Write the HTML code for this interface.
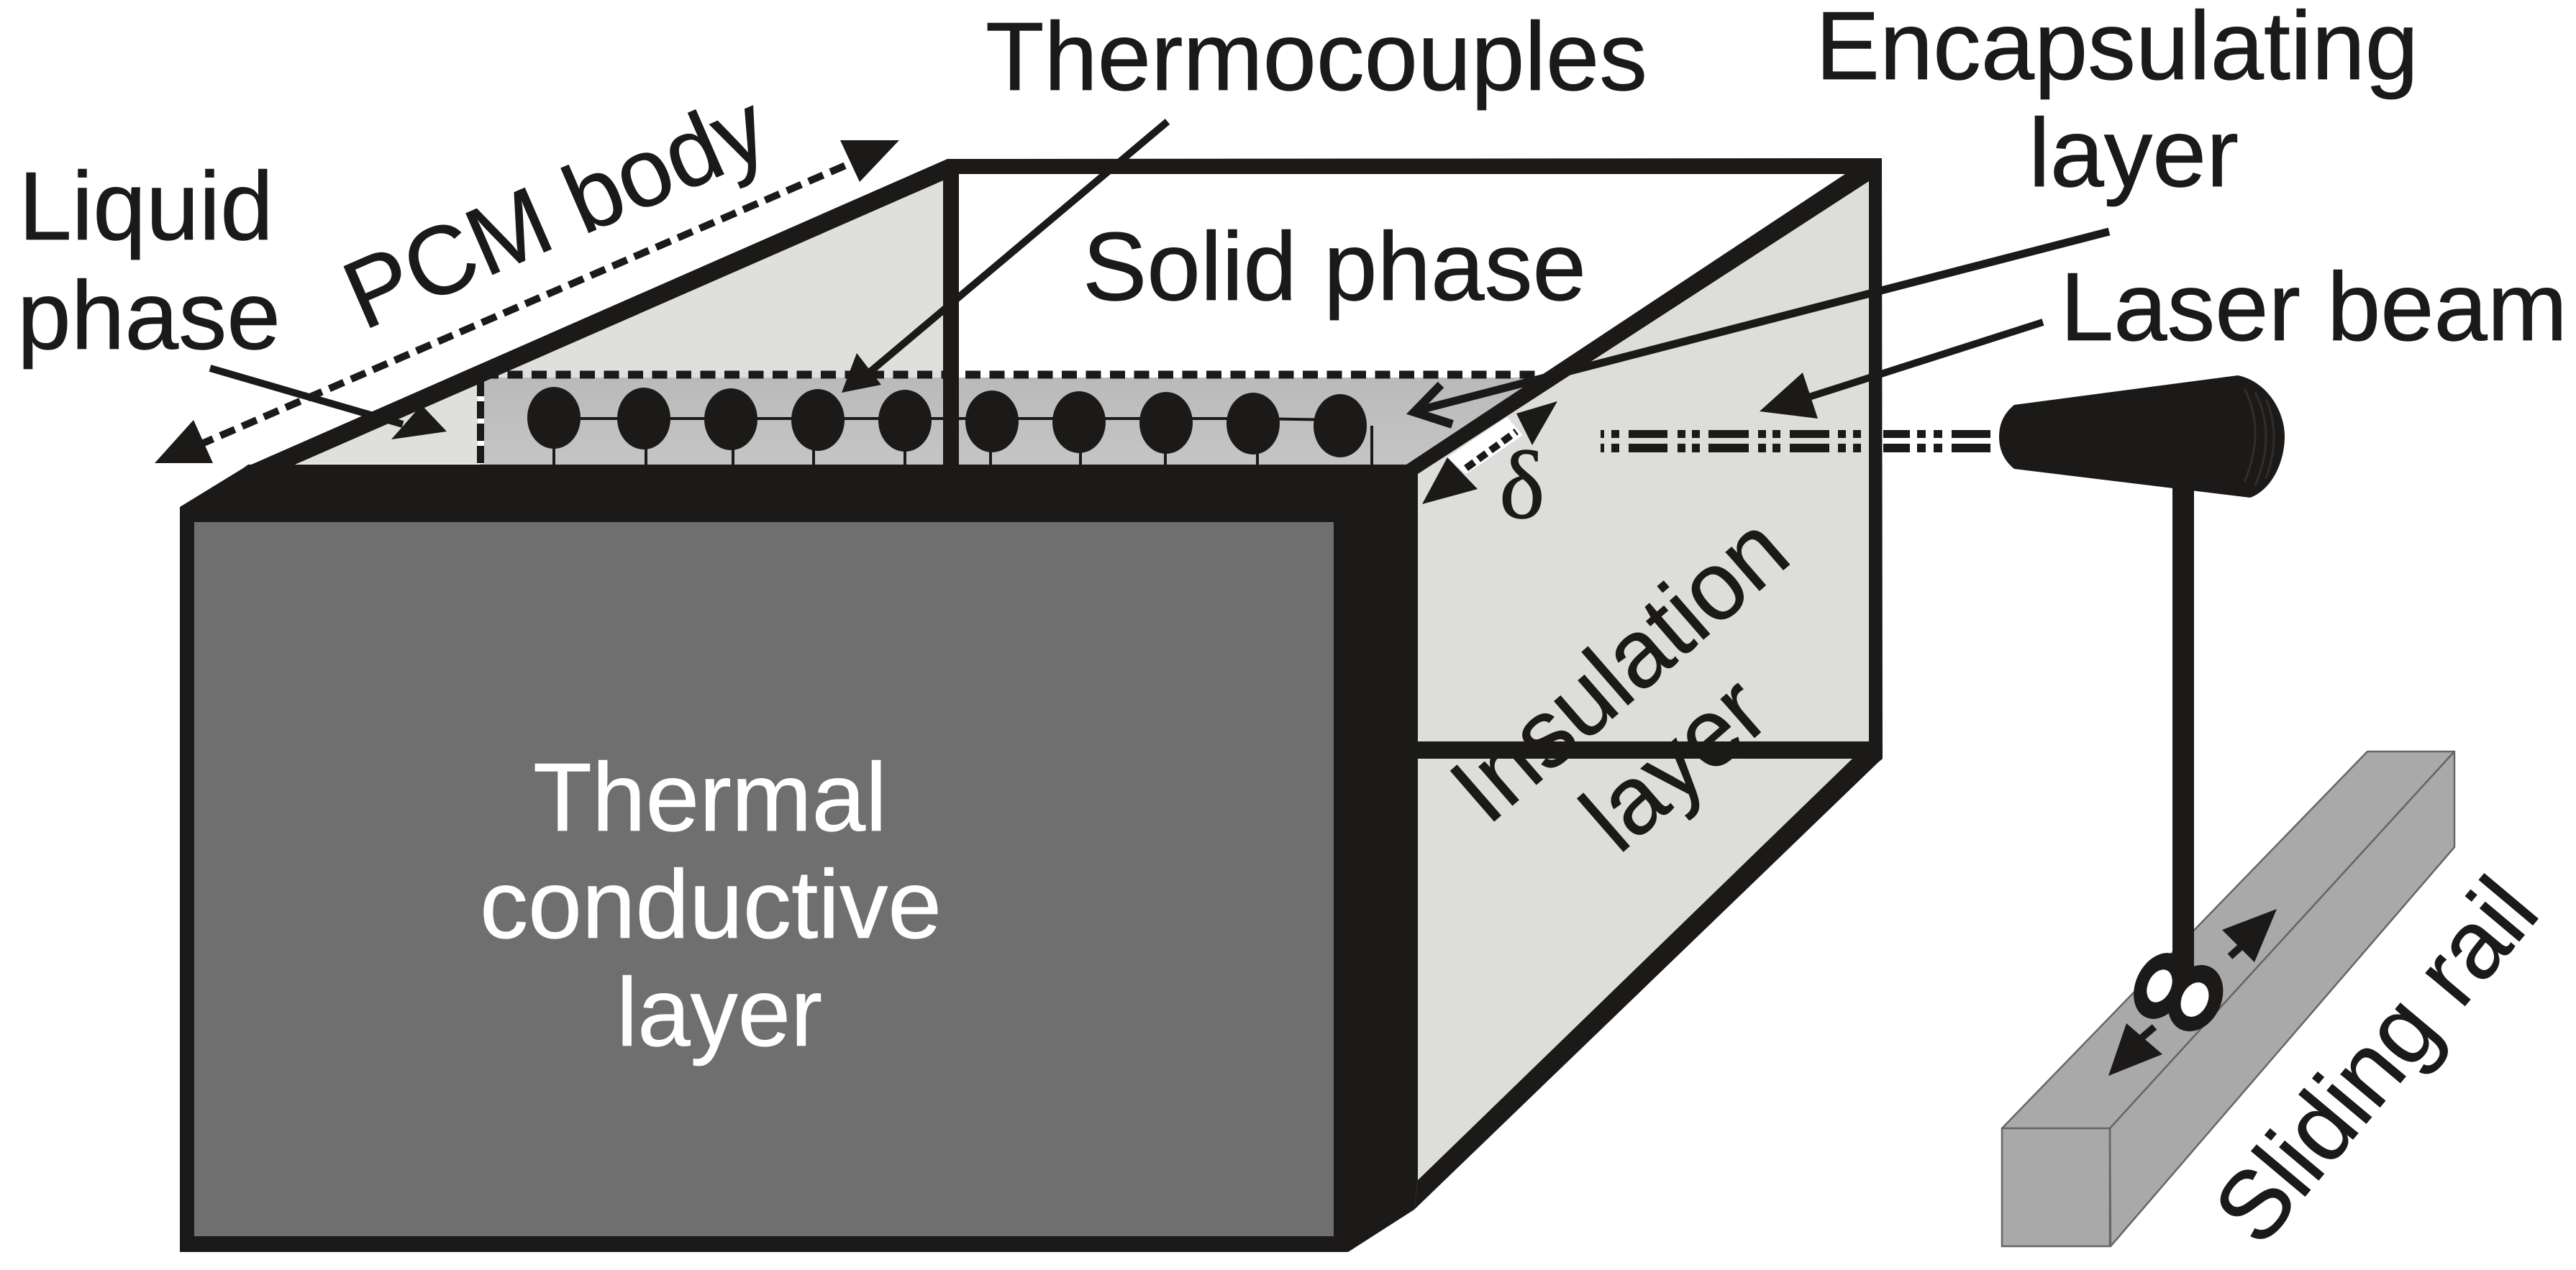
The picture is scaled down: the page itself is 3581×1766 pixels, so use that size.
<!DOCTYPE html>
<html>
<head>
<meta charset="utf-8">
<style>
html,body{margin:0;padding:0;background:#fff;width:3581px;height:1766px;overflow:hidden}
svg{display:block}
text{font-family:"Liberation Sans",sans-serif;fill:#1c1a19;font-size:135px;stroke:#1c1a19;stroke-width:0.8px}
</style>
</head>
<body>
<svg width="3581" height="1766" viewBox="0 0 3581 1766" xmlns="http://www.w3.org/2000/svg">
<defs>
<linearGradient id="g" x1="0" y1="0" x2="0" y2="1"><stop offset="0" stop-color="#b9bab9"/><stop offset="1" stop-color="#c4c5c4"/></linearGradient>
</defs>
<rect width="3581" height="1766" fill="#fff"/>

<!-- faces -->
<polygon points="410,645 1311,251 1311,645" fill="#dfe0de"/>
<polygon points="667,525 2140,525 1955,646 667,646" fill="url(#g)"/>
<polygon points="1971,659 2600,250 2600,1045 2590,1055 1971,1641" fill="#dddedc"/>

<!-- vertical dashed -->
<rect x="664" y="527" width="9" height="118" fill="#fff"/>
<line x1="668" y1="527" x2="668" y2="646" stroke="#1c1a19" stroke-width="10" stroke-dasharray="24 7"/>
<!-- top dashed -->
<line x1="672" y1="521" x2="2135" y2="521" stroke="#1c1a19" stroke-width="11" stroke-dasharray="21 12.5"/>

<!-- frame -->
<polygon points="250,705 338,651 345,646 1971,646 1971,1641 1966,1682 1874,1741 250,1741" fill="#1c1a19"/>
<rect x="270" y="726" width="1584" height="993" fill="#706f6f"/>
<polygon points="338,651 1317,221 2616,220 2617,1055 2610,1061 1966,1682 1971,1641 2575,1055 1971,1055 1971,1031 2598,1031 2598,252 1971,659 1955,646 2565,242 1333,242 1333,646 1311,646 1311,251 410,646" fill="#1c1a19"/>

<!-- thermocouple chain -->
<g fill="#1c1a19">
<ellipse cx="770" cy="581" rx="37" ry="43"/>
<ellipse cx="895" cy="582" rx="37" ry="43"/>
<ellipse cx="1016" cy="583" rx="37" ry="43"/>
<ellipse cx="1137" cy="584" rx="37" ry="43"/>
<ellipse cx="1258" cy="585" rx="37" ry="43"/>
<ellipse cx="1379" cy="586" rx="37" ry="43"/>
<ellipse cx="1500" cy="587" rx="37" ry="43"/>
<ellipse cx="1621" cy="588" rx="37" ry="43"/>
<ellipse cx="1742" cy="589" rx="37" ry="43"/>
<ellipse cx="1863" cy="592" rx="37" ry="44"/>
</g>
<path d="M770,582 H1742 L1863,584 M770,620 V646 M898,620 V646 M1019,620 V646 M1131,620 V646 M1258,620 V646 M1377,620 V646 M1502,625 V646 M1620,625 V646 M1748,625 V646 M1907,592 V646" stroke="#1c1a19" stroke-width="4" fill="none"/>

<!-- PCM body arrow -->
<line x1="276" y1="619" x2="1187" y2="225" stroke="#1c1a19" stroke-width="10" stroke-dasharray="22 11"/>
<polygon points="215,644 269,584 296,644" fill="#1c1a19"/>
<polygon points="1250,195 1168,195 1195,253" fill="#1c1a19"/>

<!-- liquid arrow -->
<line x1="292" y1="512" x2="560" y2="590" stroke="#1c1a19" stroke-width="10"/>
<polygon points="621,600 544,611 586,563" fill="#1c1a19"/>

<!-- thermocouples arrow -->
<line x1="1623" y1="169" x2="1200" y2="525" stroke="#1c1a19" stroke-width="10"/>
<polygon points="1170,546 1191,491 1225,535" fill="#1c1a19"/>

<!-- encapsulating arrow -->
<line x1="2932" y1="322" x2="1966" y2="572" stroke="#1c1a19" stroke-width="11"/>
<polyline points="2003,535 1966,573 2019,590" fill="none" stroke="#1c1a19" stroke-width="12"/>

<!-- laser arrow -->
<line x1="2840" y1="448" x2="2490" y2="560" stroke="#1c1a19" stroke-width="10"/>
<polygon points="2446,572 2506,518 2527,582" fill="#1c1a19"/>

<!-- delta arrow -->
<polygon points="2012,636 2095,580 2117,605 2038,659" fill="#fff"/>
<line x1="2038" y1="651" x2="2108" y2="600" stroke="#1c1a19" stroke-width="10" stroke-dasharray="14 7"/>
<polygon points="2165,558 2108,575 2130,619" fill="#1c1a19"/>
<polygon points="1977,701 2012,636 2054,680" fill="#1c1a19"/>
<text x="2084" y="720" style="font-family:'Liberation Serif',serif;font-size:135px">δ</text>

<!-- laser beam -->
<g fill="#1c1a19">
<path d="M2225,598h5v11h-5zM2240,598h11v11h-11zM2264,598h54v11h-54zM2332,598h11v11h-11zM2352,598h11v11h-11zM2375,598h56v11h-56zM2444,598h11v11h-11zM2464,598h11v11h-11zM2488,598h55v11h-55zM2555,598h11v11h-11zM2576,598h11v11h-11zM2618,598h37v11h-37zM2665,598h12v11h-12zM2688,598h12v11h-12zM2713,598h54v11h-54z"/>
<path d="M2225,617h5v12h-5zM2240,617h11v12h-11zM2264,617h54v12h-54zM2332,617h11v12h-11zM2352,617h11v12h-11zM2375,617h56v12h-56zM2444,617h11v12h-11zM2464,617h11v12h-11zM2488,617h55v12h-55zM2555,617h11v12h-11zM2576,617h11v12h-11zM2618,617h37v12h-37zM2665,617h12v12h-12zM2688,617h12v12h-12zM2713,617h54v12h-54z"/>
</g>

<!-- laser head -->
<rect x="3020" y="650" width="30" height="700" fill="#1c1a19"/>
<path d="M2800,563 L3111,522 C3150,530 3176,570 3176,607 C3176,640 3160,680 3128,692 L2800,652 Q2779,635 2779,607 Q2779,580 2800,563 Z" fill="#1c1a19"/>
<path d="M3120,540 Q3150,600 3120,670 M3135,545 Q3165,605 3135,675 M3150,555 Q3172,605 3150,665" fill="none" stroke="#302d2b" stroke-width="3"/>

<!-- rail -->
<g stroke="#666" stroke-width="2.5" stroke-linejoin="round" fill="#a9a9a9">
<polygon points="2783,1569 3291,1045 3412,1045 2933,1569"/>
<polygon points="3412,1045 3412,1178 2934,1733 2933,1569"/>
<rect x="2783" y="1569" width="150" height="164"/>
</g>

<!-- carriage -->
<rect x="3020" y="1200" width="30" height="170" fill="#1c1a19"/>
<g transform="rotate(25 3003 1371)"><ellipse cx="3003" cy="1371" rx="34" ry="48" fill="#1c1a19"/></g>
<g transform="rotate(25 3052 1388)"><ellipse cx="3052" cy="1388" rx="36" ry="48" fill="#1c1a19"/></g>
<g transform="rotate(25 3002 1371)"><ellipse cx="3002" cy="1371" rx="16" ry="24" fill="#fff"/></g>
<g transform="rotate(25 3051 1390)"><ellipse cx="3051" cy="1390" rx="18" ry="25" fill="#fff"/></g>
<rect x="3020" y="1340" width="12" height="40" fill="#1c1a19"/>
<!-- rail arrows -->
<polygon points="3165,1264 3089,1293 3134,1338" fill="#1c1a19"/>
<line x1="3100" y1="1330" x2="3120" y2="1312" stroke="#1c1a19" stroke-width="10"/>
<polygon points="2931,1496 2956,1423 3006,1466" fill="#1c1a19"/>
<line x1="2975" y1="1445" x2="2995" y2="1428" stroke="#1c1a19" stroke-width="10"/>

<!-- labels -->
<text x="1370" y="125" textLength="920" lengthAdjust="spacingAndGlyphs">Thermocouples</text>
<text x="2524" y="110" textLength="838" lengthAdjust="spacingAndGlyphs">Encapsulating</text>
<text x="2820" y="259" textLength="292" lengthAdjust="spacingAndGlyphs">layer</text>
<text x="2864" y="473" textLength="705" lengthAdjust="spacingAndGlyphs">Laser beam</text>
<text x="26" y="333" textLength="354" lengthAdjust="spacingAndGlyphs">Liquid</text>
<text x="24" y="485" textLength="366" lengthAdjust="spacingAndGlyphs">phase</text>
<text x="1505" y="417" textLength="700" lengthAdjust="spacingAndGlyphs">Solid phase</text>
<text transform="translate(505,460) rotate(-23.5)" textLength="622" lengthAdjust="spacingAndGlyphs">PCM body</text>
<text transform="translate(2068,1150) rotate(-41)" textLength="565" lengthAdjust="spacingAndGlyphs">Insulation</text>
<text transform="translate(2250,1190) rotate(-41)" textLength="285" lengthAdjust="spacingAndGlyphs">layer</text>
<text transform="translate(3142,1738) rotate(-50)" textLength="610" lengthAdjust="spacingAndGlyphs">Sliding rail</text>
<g>
<text x="741" y="1155" style="fill:#fff;stroke:#fff" textLength="492" lengthAdjust="spacingAndGlyphs">Thermal</text>
<text x="667" y="1304" style="fill:#fff;stroke:#fff" textLength="642" lengthAdjust="spacingAndGlyphs">conductive</text>
<text x="857" y="1454" style="fill:#fff;stroke:#fff" textLength="286" lengthAdjust="spacingAndGlyphs">layer</text>
</g>
</svg>
</body>
</html>
